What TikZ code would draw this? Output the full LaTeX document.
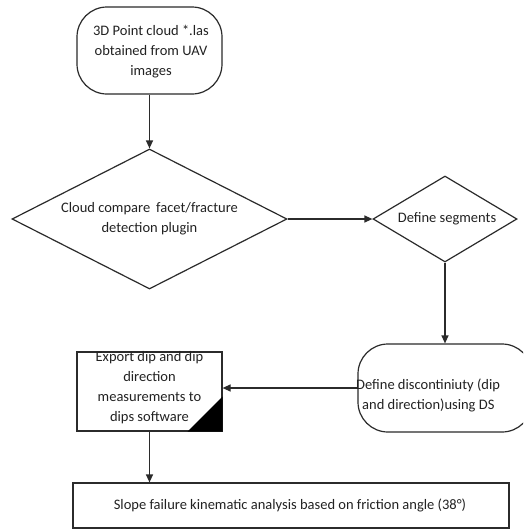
\documentclass[tikz,border=0pt]{standalone}
\usepackage{fontspec}
\setmainfont{Carlito}
\usetikzlibrary{shapes.geometric,arrows.meta}
\definecolor{ln}{HTML}{2b2b2b}
\definecolor{tx}{HTML}{222222}
\begin{document}
\begin{tikzpicture}[x=1pt,y=-1pt,
  font=\fontsize{14.5}{20}\selectfont,
  every node/.style={text=tx},
  box/.style={draw=ln,line width=1.2pt,fill=white,inner sep=0pt},
  dia/.style={draw=ln,line width=1.2pt,diamond,inner sep=0pt,fill=white},
  txt/.style={align=center,inner sep=0pt},
  arr/.style={draw=ln,line width=1.2pt,-{Triangle[length=8pt,width=7pt]}},
  ln/.style={draw=ln,line width=1.2pt}]
\useasboundingbox (0,0) rectangle (523,531);
\clip (0,0) rectangle (523,531);
\fill[white] (0,0) rectangle (523,531);

\node[box,rounded corners=30pt,minimum width=145pt,minimum height=87pt] (top) at (149.5,50.5) {};
\node[txt] (toptext) at (151,52) {3D Point cloud *.las\\obtained from UAV\\images};

\node[dia,minimum width=275pt,minimum height=140pt] (d1) at (149.5,219) {};
\node[txt] (d1text) at (149.5,219) {Cloud compare\hspace{6pt}facet/fracture\\detection plugin};

\node[dia,minimum width=144pt,minimum height=86pt] (d2) at (445,219) {};
\node[txt] (d2text) at (447,219) {Define segments};

\node[box,rounded corners=30pt,minimum width=174pt,minimum height=88pt] (ds) at (445,388) {};
\node[align=left,inner sep=0pt,anchor=west] (dstext) at (356,395) {Define discontiniuty (dip\\\hspace*{6pt}and direction)using DS};

\node[box,minimum width=145pt,minimum height=79pt] (exp) at (149.5,391.5) {};
\node[txt] (exptext) at (149.5,388) {Export dip and dip\\direction\\measurements to\\dips software};
\fill[black] (exp.south east) -- ++(-35,0) -- ++(35,-35) -- cycle;

\node[box,minimum width=436pt,minimum height=45pt] (slope) at (291,505.5) {};
\node[txt] (slopetext) at (290,505.5) {Slope failure kinematic analysis based on friction angle (38°)};

\draw[arr] (top.south) -- (d1.north);
\draw[arr] (d1.east) -- (d2.west);
\draw[arr] (d2.south) -- (ds.north);
\draw[arr] (ds.west) -- (ds.west -| exp.east);
\draw[arr] (exp.south) -- (exp.south |- slope.north);
\end{tikzpicture}
\end{document}
